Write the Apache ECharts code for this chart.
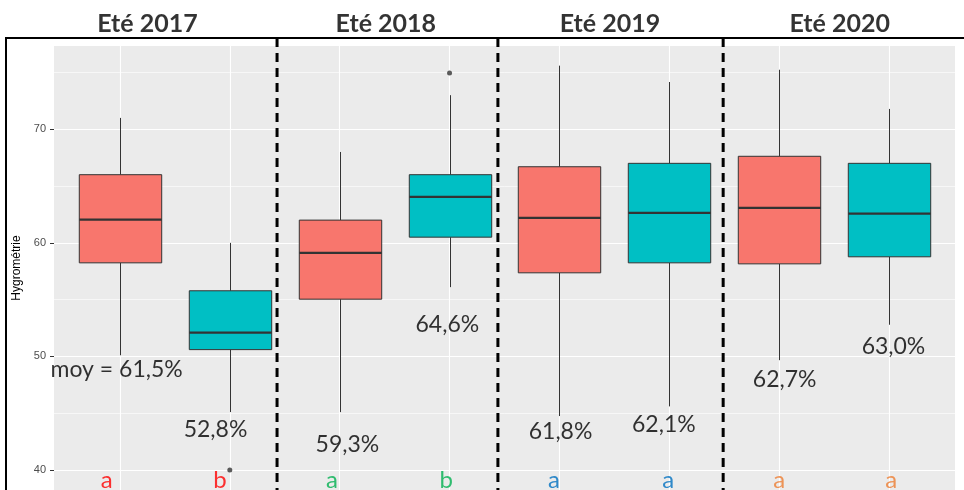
<!DOCTYPE html>
<html lang="fr">
<head>
	<meta charset="UTF-8">
	<title>Hygrométrie - étés 2017 à 2020</title>
	<style type="text/css">
		html, body { margin: 0; padding: 0; background: #fff; }
		#chart { width: 964px; height: 490px; }
	</style>
</head>
<body>
	<div id="chart"></div>
	<script type="text/javascript" src="https://cdn.jsdelivr.net/npm/echarts@6/dist/echarts.min.js"></script>
	<script type="text/javascript">
		// --- données ---
		var boxX = [1, 2, 3, 4, 5, 6, 7, 8];
		var saison = ['2017', '2017', '2018', '2018', '2019', '2019', '2020', '2020'];
		var sousGroupe = ['A', 'B', 'A', 'B', 'A', 'B', 'A', 'B'];
		var moustacheBas = [50.1, 45.1, 45.1, 56.1, 44.75, 45.6, 49.67, 52.79];
		var q1 = [58.24, 50.6, 55.04, 60.5, 57.36, 58.24, 58.15, 58.77];
		var mediane = [62.05, 52.1, 59.12, 64.05, 62.2, 62.64, 63.08, 62.58];
		var q3 = [66.0, 55.78, 62.0, 66.0, 66.7, 67.0, 67.62, 67.0];
		var moustacheHaut = [71.0, 60.0, 68.0, 73.0, 75.6, 74.16, 75.24, 71.79];

		// points extrêmes
		var outlierX = [2, 4];
		var outlierY = [40.0, 74.95];

		// titres des étés
		var titres = ['Eté 2017', 'Eté 2018', 'Eté 2019', 'Eté 2020'];
		var titreX = [1.25, 3.42, 5.46, 7.55];
		var titreY = 79.3;

		// séparateurs entre les étés
		var separateurX = [2.43, 4.44, 6.49];

		// moyennes annotées
		var noteTexte = ['moy = 61,5%', '52,8%', '59,3%', '64,6%', '61,8%', '62,1%', '62,7%', '63,0%'];
		var noteX = [0.97, 1.87, 3.07, 3.98, 5.01, 5.95, 7.05, 8.04];
		var noteY = [48.84, 43.52, 42.2, 52.82, 43.37, 43.96, 47.98, 50.85];

		// lettres des tests
		var lettres = ['a', 'b', 'a', 'b', 'a', 'a', 'a', 'a'];
		var lettreX = [0.88, 1.91, 2.93, 3.97, 4.95, 5.99, 7.0, 8.02];
		var lettreY = 39.06;

		var yTicks = [40, 50, 60, 70];

		// couleurs
		var couleurBoite = { A: '#F8766D', B: '#00BFC4' };
		var couleurSaison = { '2017': '#FF0000', '2018': '#00B050', '2019': '#0070C0', '2020': '#ED7D31' };

		var boites = [];
		for (var i = 0; i < boxX.length; i++) {
			boites.push([boxX[i], moustacheBas[i], q1[i], mediane[i], q3[i], moustacheHaut[i]]);
		}

		function dessineBoite(params, api) {
			var x = api.value(0);
			var bas = api.coord([x, api.value(1)]);
			var b1 = api.coord([x, api.value(2)]);
			var med = api.coord([x, api.value(3)]);
			var b3 = api.coord([x, api.value(4)]);
			var haut = api.coord([x, api.value(5)]);
			var w = api.size([0.75, 0])[0];
			var cx = Math.round(bas[0]) + 0.5;
			var fill = couleurBoite[sousGroupe[params.dataIndex]];
			var trait = { stroke: '#333333', lineWidth: 1 };
			return {
				type: 'group',
				children: [
					{ type: 'line', shape: { x1: cx, y1: bas[1], x2: cx, y2: b1[1] }, style: trait },
					{ type: 'line', shape: { x1: cx, y1: b3[1], x2: cx, y2: haut[1] }, style: trait },
					{ type: 'rect', shape: { x: cx - w / 2, y: b3[1], width: w, height: b1[1] - b3[1] },
						style: { fill: fill, stroke: '#333333', lineWidth: 1 } },
					{ type: 'line', shape: { x1: cx - w / 2, y1: med[1], x2: cx + w / 2, y2: med[1] },
						style: { stroke: '#333333', lineWidth: 2.2 } }
				]
			};
		}

		function dessineSeparateur(params, api) {
			var x = api.value(0);
			var p1 = api.coord([x, 78.03]);
			var p2 = api.coord([x, 30]);
			return {
				type: 'line',
				shape: { x1: p1[0], y1: p1[1], x2: p2[0], y2: p2[1] },
				style: { stroke: '#000', lineWidth: 3, lineDash: [9, 6] }
			};
		}

		var titresData = [], notesData = [], lettresData = [], outliers = [], seps = [];
		for (var t = 0; t < titres.length; t++) titresData.push({ value: [titreX[t], titreY], name: titres[t] });
		for (var n = 0; n < noteTexte.length; n++) notesData.push({ value: [noteX[n], noteY[n]], name: noteTexte[n] });
		for (var l = 0; l < lettres.length; l++) {
			lettresData.push({
				value: [lettreX[l], lettreY], name: lettres[l],
				label: { color: couleurSaison[saison[l]] }
			});
		}
		for (var o = 0; o < outlierX.length; o++) outliers.push([outlierX[o], outlierY[o]]);
		for (var s = 0; s < separateurX.length; s++) seps.push([separateurX[s]]);

		var texteSerie = function (data, size, bold) {
			return {
				type: 'scatter',
				data: data,
				symbolSize: 0,
				clip: false,
				silent: true,
				z: 6,
				label: {
					show: true,
					position: 'inside',
					formatter: '{b}',
					fontFamily: 'Lato',
					fontSize: size,
					fontWeight: bold ? 'bold' : 'normal',
					color: '#000'
				}
			};
		};

		var myChart = echarts.init(document.getElementById('chart'));
		var option = {
			animation: false,
			grid: {
				left: 54, right: 9, top: 46, bottom: 0,
				show: true, backgroundColor: '#EBEBEB', borderWidth: 0
			},
			xAxis: {
				type: 'value',
				min: 0.4, max: 8.6, splitNumber: 8,
				axisLine: { show: false },
				axisTick: { show: false },
				axisLabel: { show: false },
				splitLine: { show: true, showMinLine: false, showMaxLine: false, lineStyle: { color: '#fff', width: 1.1 } }
			},
			yAxis: {
				type: 'value',
				min: 38.24, max: 77.33, splitNumber: 4,
				name: 'Hygrométrie',
				nameLocation: 'middle',
				nameGap: 26,
				nameTextStyle: { fontFamily: 'Liberation Sans', fontSize: 12, color: '#000' },
				axisLine: { show: false },
				axisTick: { show: true, length: 4, customValues: yTicks, lineStyle: { color: '#333' } },
				axisLabel: { customValues: yTicks, margin: 8,
					fontFamily: 'Liberation Sans', fontSize: 11, color: '#4D4D4D' },
				splitLine: { show: true, lineStyle: { color: '#fff', width: 1.1 } },
				minorTick: { show: false, splitNumber: 2 },
				minorSplitLine: { show: true, lineStyle: { color: '#fff', width: 0.6 } }
			},
			graphic: [
				{ type: 'line', z: 10, shape: { x1: 5, y1: 38, x2: 964, y2: 38 }, style: { stroke: '#000', lineWidth: 2 } },
				{ type: 'line', z: 10, shape: { x1: 6, y1: 37, x2: 6, y2: 490 }, style: { stroke: '#000', lineWidth: 2 } }
			],
			series: [
				{
					type: 'custom',
					renderItem: dessineBoite,
					data: boites,
					clip: false,
					z: 3
				},
				{
					type: 'scatter',
					data: outliers,
					symbolSize: 5,
					itemStyle: { color: '#333333' },
					z: 4
				},
				{
					type: 'custom',
					renderItem: dessineSeparateur,
					data: seps,
					clip: false,
					z: 5
				},
				texteSerie(titresData, 25, true),
				texteSerie(notesData, 23, false),
				{
					type: 'scatter',
					data: lettresData,
					symbolSize: 0,
					clip: false,
					silent: true,
					z: 6,
					label: { show: true, position: 'inside', formatter: '{b}', fontFamily: 'Lato', fontSize: 24 }
				}
			]
		};
		myChart.setOption(option);
	</script>
</body>
</html>
